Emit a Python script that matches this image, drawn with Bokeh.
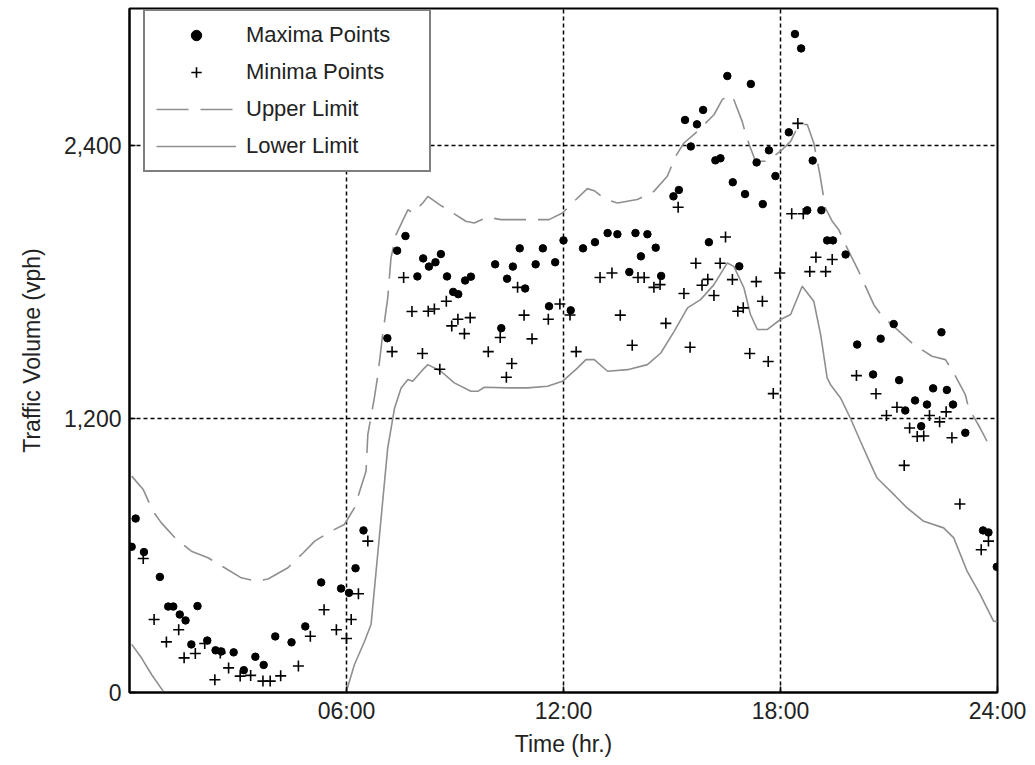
from bokeh.plotting import figure
from bokeh.models import FixedTicker, Legend, LegendItem, Range1d
from bokeh.embed import file_html
from bokeh.resources import INLINE

# ---- data (hours, vph) ----
max_h = [0.17, 0.06, 0.40, 0.84, 1.07, 1.21, 1.39, 1.55, 1.88, 1.71, 2.15, 2.38, 2.54, 2.88, 3.16,
         3.48, 3.71, 4.03, 4.48, 4.86, 5.30, 5.85, 6.07, 6.25, 6.47,
         7.13, 7.40, 7.63, 7.96, 8.12, 8.28, 8.46, 8.61, 8.78, 8.95, 9.09, 9.28, 9.44, 10.11, 10.28,
         10.44, 10.60, 10.79, 10.94, 11.23, 11.43, 11.60, 11.77, 12.20, 12.54, 12.00,
         12.87, 13.22, 13.49, 13.99, 14.32, 14.55, 14.14, 13.82, 14.70, 15.04, 15.19, 15.36, 15.52,
         15.69, 15.86, 16.02, 16.20, 16.34, 16.53, 16.68, 16.86, 17.02, 17.18, 17.51, 17.68, 17.86,
         18.23, 18.40, 18.57, 18.89, 18.74, 19.13, 19.29, 19.45, 19.80, 17.34,
         21.13, 22.45, 20.12, 20.77, 20.56, 21.28, 22.22, 22.60, 21.72, 22.05, 22.77, 21.45, 21.89,
         23.11, 23.60, 23.75, 23.98]
max_v = [763, 639, 616, 507, 377, 377, 342, 316, 379, 211, 228, 185, 180, 176, 98,
         157, 121, 246, 220, 290, 483, 456, 437, 545, 711,
         1554, 1938, 2002, 1825, 1904, 1868, 1887, 1923, 1825, 1757, 1747, 1807, 1824, 1878, 1598,
         1815, 1868, 1948, 1772, 1878, 1948, 1694, 1887, 1676, 1948, 1983,
         1975, 2015, 2010, 2015, 2010, 1951, 1913, 1844, 1827, 2176, 2204, 2511, 2395,
         2492, 2555, 1975, 2334, 2343, 2704, 2238, 1869, 2186, 2669, 2142, 2378, 2265,
         2457, 2888, 2825, 2333, 2115, 2115, 1983, 1983, 1921, 2325,
         1616, 1580, 1526, 1552, 1395, 1370, 1334, 1327, 1281, 1263, 1263, 1237, 1168,
         1139, 711, 702, 551]

min_h = [0.38, 0.68, 1.36, 1.02, 1.51, 1.82, 2.08, 2.51, 2.74, 2.36, 3.06, 3.35, 3.69, 3.89, 4.18,
         4.67, 5.00, 5.38, 5.72, 6.00, 6.13, 6.33, 6.59,
         7.58, 7.81, 8.26, 8.43, 8.76, 7.26, 8.10, 8.58, 9.08, 8.91, 9.42, 9.26, 10.25, 9.92, 10.57,
         10.42, 10.73, 10.91, 11.13, 11.58, 11.90, 12.18, 12.35,
         15.17, 16.48, 13.01, 13.34, 14.06, 14.23, 14.50, 14.67, 13.57, 13.90, 14.83, 15.33, 15.50,
         15.66, 16.33, 15.99, 15.83, 16.16, 16.67, 17.33, 17.50, 16.82, 16.97, 17.15, 17.66, 17.80,
         17.98, 18.31, 18.63, 18.48, 18.98, 18.81, 19.25, 19.43,
         20.10, 20.64, 21.22, 20.93, 22.12, 22.58, 22.40, 21.57, 21.78, 21.96, 22.74, 21.42, 22.96,
         23.75, 23.55]
min_v = [588, 320, 275, 222, 152, 171, 215, 173, 108, 56, 72, 75, 50, 50, 73,
         116, 247, 363, 275, 237, 320, 433, 664,
         1820, 1671, 1672, 1682, 1716, 1495, 1487, 1418, 1637, 1608, 1644, 1574, 1557, 1495, 1443,
         1383, 1777, 1655, 1551, 1637, 1704, 1656, 1495,
         2128, 1998, 1820, 1840, 1820, 1820, 1777, 1789, 1655, 1523, 1619, 1750, 1514,
         1883, 1883, 1812, 1786, 1741, 1811, 1802, 1716, 1672, 1687, 1487, 1452, 1311,
         1840, 2100, 2100, 2496, 1909, 1846, 1846, 1899,
         1390, 1310, 1251, 1215, 1215, 1231, 1187, 1160, 1123, 1125, 1117, 996, 827,
         664, 626]

up_h = [0.06, 0.38, 0.65, 0.88, 1.30, 1.71, 2.17, 2.63, 3.09, 3.51, 3.83, 4.38, 4.80, 5.12, 5.58,
        5.94, 6.22, 6.54, 6.59, 6.77, 6.87, 7.00, 7.14, 7.23, 7.37, 7.70, 7.83, 8.11, 8.25, 8.57,
        8.94, 9.30, 9.53, 9.90, 10.27, 10.64, 11.60, 11.97, 12.29, 12.66, 12.85, 13.17, 13.49,
        14.04, 14.50, 14.87, 15.10, 15.33, 15.70, 16.16, 16.39, 16.57, 16.71, 16.94, 17.04, 17.17,
        17.31, 17.62, 18.00, 18.28, 18.51, 18.74, 18.92, 19.09, 19.24, 19.43, 19.61, 19.84, 20.14,
        20.58, 20.81, 21.13, 21.68, 22.19, 22.56, 22.79, 23.11, 23.20, 23.52, 23.71]
up_v = [949, 890, 795, 744, 671, 620, 591, 547, 503, 488, 498, 547, 612, 664, 708,
        737, 810, 970, 1132, 1292, 1395, 1570, 1730, 1906, 2008, 2118, 2103, 2147, 2176, 2140,
        2103, 2067, 2059, 2085, 2074, 2074, 2074, 2103, 2154, 2210, 2201, 2162, 2147,
        2162, 2198, 2264, 2352, 2410, 2461, 2534, 2600, 2622, 2600, 2505, 2447, 2388,
        2330, 2330, 2374, 2417, 2491, 2491, 2410, 2271, 2125, 2067, 2030, 1950, 1855,
        1701, 1650, 1606, 1526, 1475, 1460, 1402, 1307, 1248, 1160, 1102]

lo_h = [0.06, 0.33, 0.61, 0.93, 1.5, 3.0, 4.5, 5.5, 6.0, 6.22, 6.50, 6.68, 7.14, 7.33, 7.51,
        7.70, 7.83, 8.11, 8.25, 8.61, 8.98, 9.44, 9.63, 9.81, 10.46, 11.01, 11.56, 11.97, 12.39,
        12.62, 12.85, 13.22, 13.77, 14.32, 14.69, 15.06, 15.43, 15.79, 16.16, 16.53, 16.71,
        16.99, 17.17, 17.36, 17.63, 18.00, 18.28, 18.60, 18.92, 19.11, 19.29, 19.38, 19.66,
        19.93, 20.21, 20.58, 20.67, 21.18, 21.50, 21.96, 22.51, 22.79, 23.16, 23.52, 23.89, 24.0]
lo_v = [211, 152, 79, 6, -150, -300, -250, -120, 6, 123, 225, 299, 1073, 1248, 1336,
        1373, 1365, 1416, 1438, 1409, 1358, 1321, 1321, 1339, 1336, 1336, 1343, 1365, 1424,
        1460, 1460, 1409, 1416, 1438, 1489, 1584, 1687, 1723, 1789, 1884, 1869,
        1774, 1658, 1592, 1592, 1636, 1658, 1782, 1716, 1570, 1380, 1351, 1292,
        1204, 1102, 971, 941, 861, 810, 751, 722, 678, 532, 430, 313, 310]

x_ticks = [6, 12, 18, 24]
x_labels = ["06:00", "12:00", "18:00", "24:00"]
y_ticks = [0, 1200, 2400]
y_labels = ["0", "1,200", "2,400"]

FONT = "Liberation Sans"
FS = "23px"

p = figure(width=1035, height=765, output_backend="svg", toolbar_location=None,
           x_range=Range1d(0, 24), y_range=Range1d(0, 3000),
           min_border_left=129, min_border_right=38, min_border_top=8, min_border_bottom=73)
p.background_fill_color = "white"
p.border_fill_color = "white"
p.outline_line_color = "black"
p.outline_line_width = 2

GRAY = "#8f8f8f"
r_up = p.line(up_h, up_v, line_color=GRAY, line_width=1.6, line_dash="32 12")
r_lo = p.line(lo_h, lo_v, line_color=GRAY, line_width=1.6)
r_max = p.scatter(max_h, max_v, marker="circle", size=7.5, fill_color="black", line_color="black")
r_min = p.scatter(min_h, min_v, marker="cross", size=11, line_color="black", line_width=1.6)

# axes
p.xaxis.ticker = FixedTicker(ticks=x_ticks)
p.xaxis.major_label_overrides = {t: l for t, l in zip(x_ticks, x_labels)}
p.yaxis.ticker = FixedTicker(ticks=y_ticks)
p.yaxis.major_label_overrides = {t: l for t, l in zip(y_ticks, y_labels)}
for ax in (p.xaxis, p.yaxis):
    ax.axis_line_color = "black"
    ax.axis_line_width = 2
    ax.major_tick_in = 6
    ax.major_tick_out = 0
    ax.major_tick_line_color = "black"
    ax.major_tick_line_width = 1.5
    ax.minor_tick_line_color = None
    ax.major_label_text_font = FONT
    ax.major_label_text_font_size = FS
    ax.major_label_text_color = "#222222"
    ax.axis_label_text_font = FONT
    ax.axis_label_text_font_size = FS
    ax.axis_label_text_font_style = "normal"
    ax.axis_label_text_color = "#222222"
p.xaxis.axis_label = "Time (hr.)"
p.yaxis.axis_label = "Traffic Volume (vph)"
p.xaxis.major_label_standoff = 5
p.yaxis.major_label_standoff = 8
p.xaxis.axis_label_standoff = 4
p.yaxis.axis_label_standoff = 16

# grid
p.xgrid.ticker = FixedTicker(ticks=[6, 12, 18])
p.ygrid.ticker = FixedTicker(ticks=[1200, 2400])
for g in (p.xgrid, p.ygrid):
    g.grid_line_color = "black"
    g.grid_line_dash = "4 3"
    g.grid_line_width = 1.5

legend = Legend(items=[
    LegendItem(label="Maxima Points", renderers=[r_max]),
    LegendItem(label="Minima Points", renderers=[r_min]),
    LegendItem(label="Upper Limit", renderers=[r_up]),
    LegendItem(label="Lower Limit", renderers=[r_lo]),
], location=(14, 520))
legend.border_line_color = "black"
legend.border_line_width = 2
legend.background_fill_alpha = 1
legend.label_text_font = FONT
legend.label_text_font_size = "22px"
legend.label_text_color = "#222222"
legend.glyph_width = 80
legend.glyph_height = 26
legend.label_height = 26
legend.label_width = 172
legend.label_standoff = 10
legend.spacing = 11
legend.padding = 11
legend.margin = 0
p.add_layout(legend, "center")

open("out.html", "w").write(file_html(p, INLINE))
